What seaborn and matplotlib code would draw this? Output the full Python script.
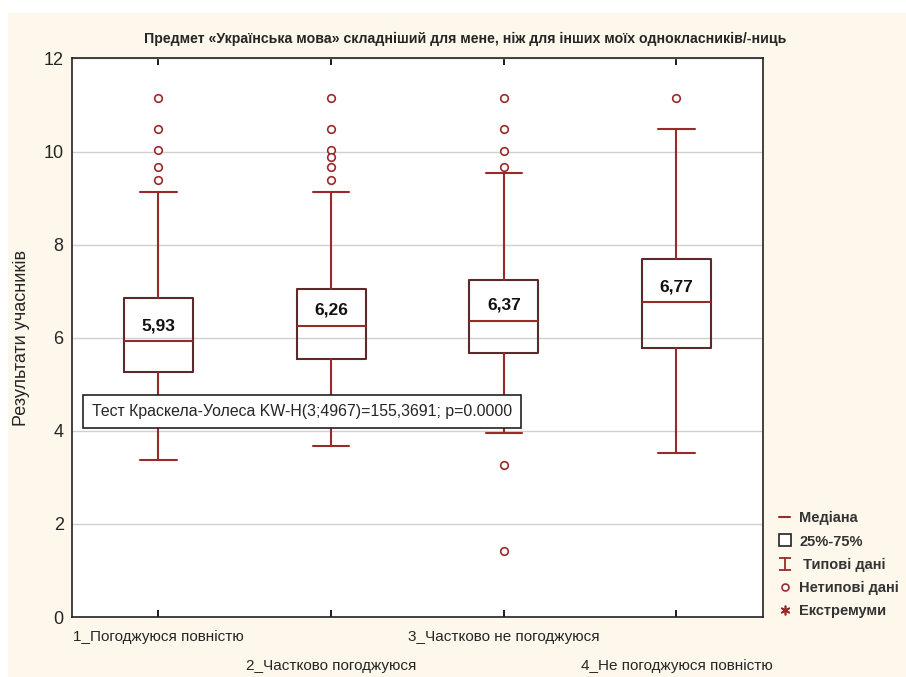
import numpy as np
import pandas as pd
import seaborn as sns
import matplotlib.pyplot as plt
from matplotlib.lines import Line2D
from matplotlib.path import Path
from matplotlib.patches import Rectangle

title = "Предмет «Українська мова» складніший для мене, ніж для інших моїх однокласників/-ниць"
ylabel = "Результати учасників"
test_text = "Тест Краскела-Уолеса KW-H(3;4967)=155,3691; p=0.0000"

groups = ["1_Погоджуюся повністю", "2_Частково погоджуюся",
          "3_Частково не погоджуюся", "4_Не погоджуюся повністю"]
medians = [5.93, 6.26, 6.37, 6.77]
q1 = [5.26, 5.54, 5.67, 5.79]
q3 = [6.85, 7.04, 7.25, 7.70]
whislo = [3.37, 3.67, 3.95, 3.52]
whishi = [9.14, 9.14, 9.53, 10.49]
outliers = [
    [11.16, 10.49, 10.04, 9.66, 9.38],
    [11.16, 10.49, 10.04, 9.89, 9.66, 9.38],
    [11.16, 10.49, 10.02, 9.66, 3.26, 1.42],
    [11.16],
]

legend_labels = ["Медіана", "25%-75%", " Типові дані", "Нетипові дані", "Екстремуми"]

red = "#9a2a2a"
boxc = "#5c2a2a"
bg = "#fdf8eb"

sns.set_theme(style="white")
plt.rcParams["font.family"] = ["Liberation Sans", "DejaVu Sans"]

fig = plt.figure(figsize=(9.06, 6.77), dpi=100, facecolor="white")
# cream panel behind everything, thin white strip on top and left
fig.patches.append(Rectangle((8 / 906, 0), 1, 1 - 13 / 677, transform=fig.transFigure,
                             fc=bg, ec="none", zorder=-10))
ax = fig.add_axes([0.0795, 0.0886, 0.7625, 0.825])
ax.set_facecolor("white")

stats = []
for i in range(len(groups)):
    stats.append({"med": medians[i], "q1": q1[i], "q3": q3[i],
                  "whislo": whislo[i], "whishi": whishi[i], "fliers": []})

pos = np.arange(len(groups))
ax.bxp(stats, positions=pos, widths=0.40, capwidths=0.21, showfliers=False,
       boxprops=dict(color=boxc, lw=1.5),
       whiskerprops=dict(color=red, lw=1.5),
       capprops=dict(color=red, lw=1.5),
       medianprops=dict(color=red, lw=1.5),
       manage_ticks=False, zorder=3)

out_df = pd.DataFrame({
    "x": [i for i, vals in enumerate(outliers) for _ in vals],
    "y": [v for vals in outliers for v in vals],
})
sns.scatterplot(data=out_df, x="x", y="y", ax=ax, marker="o", s=30,
                facecolor="white", edgecolor=red, linewidth=1.2, zorder=4,
                legend=False)

for i, m in enumerate(medians):
    ax.annotate(f"{m:.2f}".replace(".", ","), (i, m), xytext=(0, 11),
                textcoords="offset points", ha="center", va="center",
                fontsize=12.5, fontweight="bold", color="#111111", zorder=5)

ax.set_xlim(-0.5, 3.5)
ax.set_ylim(0, 12)
ax.set_yticks(range(0, 13, 2))
ax.yaxis.grid(True, color="#d0d0d0", lw=1)
ax.set_axisbelow(True)
ax.set_xticks(pos)
ax.set_xticklabels(groups, fontsize=11)
ax.tick_params(axis="x", direction="in", top=True, bottom=True, length=5,
               color="black")
for i, t in enumerate(ax.xaxis.get_major_ticks()):
    t.set_pad(9 if i % 2 == 0 else 30)
ax.tick_params(axis="y", labelsize=13, length=0, pad=6)
for s in ax.spines.values():
    s.set_color("#222222")
    s.set_linewidth(1.2)
ax.set_xlabel("")
ax.set_ylabel(ylabel, fontsize=13, labelpad=10)

ax.set_title(title, fontsize=10.2, fontweight="bold", pad=11, x=0.569)

ax.text(0.029, 0.368, test_text, transform=ax.transAxes, fontsize=11.4,
        va="center", ha="left",
        bbox=dict(boxstyle="square,pad=0.55", fc="white", ec="#222222", lw=1.2),
        zorder=6)

ibeam = Path([(-1, 1), (1, 1), (0, 1), (0, -1), (-1, -1), (1, -1)],
             [Path.MOVETO, Path.LINETO, Path.MOVETO, Path.LINETO, Path.MOVETO, Path.LINETO])
handles = [
    Line2D([], [], color=red, lw=1.5),
    Line2D([], [], ls="none", marker="s", ms=9, mfc="white", mec="#222222", mew=1.2),
    Line2D([], [], ls="none", marker=ibeam, ms=9, mec=red, mew=1.3),
    Line2D([], [], ls="none", marker="o", ms=5, mfc="white", mec=red, mew=1.2),
    Line2D([], [], ls="none", marker=(6, 2, 0), ms=7, mec=red, mew=1.2),
]
fig.legend(handles, legend_labels, loc="upper left", bbox_to_anchor=(0.845, 0.264),
           frameon=False, handlelength=0.8, handletextpad=0.6, labelspacing=0.62,
           prop=dict(size=10.5, weight="bold"), labelcolor="#333333")

fig.savefig("out.png", dpi=100, facecolor="white")
